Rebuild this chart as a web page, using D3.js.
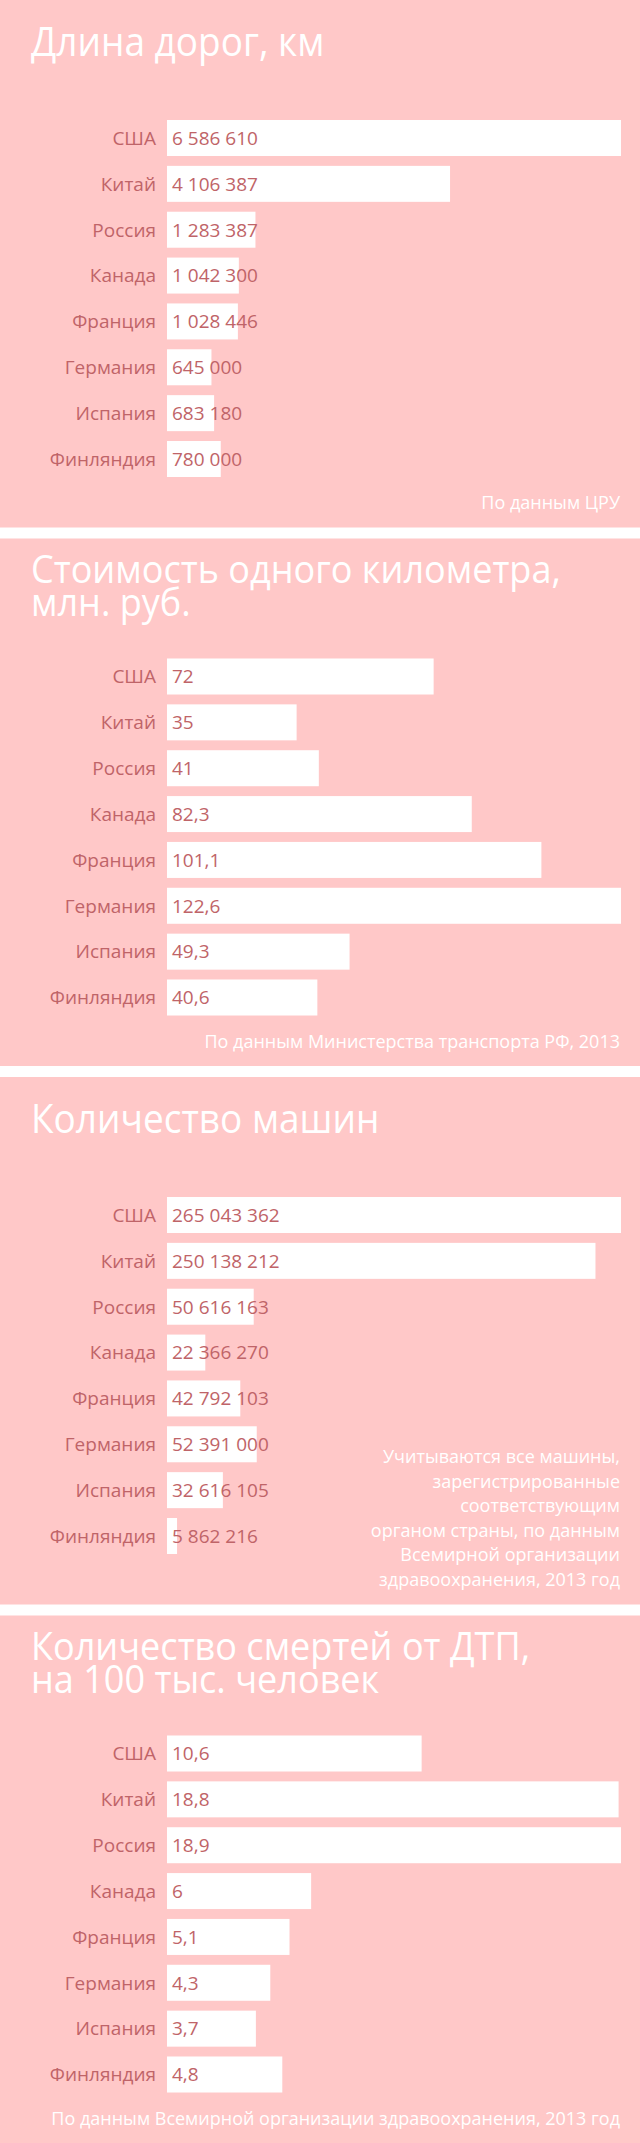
<!DOCTYPE html>
<html>
<head>
<meta charset="utf-8">
<script src="https://cdn.jsdelivr.net/npm/d3@7/dist/d3.min.js"></script>
<style>
  html, body { margin: 0; padding: 0; background: #ffffff; }
  svg { display: block; }
  text { font-family: "Open Sans", "Noto Sans", sans-serif; }
</style>
</head>
<body>
<svg id="chart" width="640" height="2143"></svg>
<script>
// ---- data ----
const categories = ["США", "Китай", "Россия", "Канада", "Франция", "Германия", "Испания", "Финляндия"];

const roadLength = [6586610, 4106387, 1283387, 1042300, 1028446, 645000, 683180, 780000];
const costPerKm  = [72, 35, 41, 82.3, 101.1, 122.6, 49.3, 40.6];
const carCount   = [265043362, 250138212, 50616163, 22366270, 42792103, 52391000, 32616105, 5862216];
const deathRate  = [10.6, 18.8, 18.9, 6, 5.1, 4.3, 3.7, 4.8];

const titles = [
  ["Длина дорог, км"],
  ["Стоимость одного километра,", "млн. руб."],
  ["Количество машин"],
  ["Количество смертей от ДТП,", "на 100 тыс. человек"]
];
const notes = [
  ["По данным ЦРУ"],
  ["По данным Министерства транспорта РФ, 2013"],
  ["Учитываются все машины,", "зарегистрированные", "соответствующим",
   "органом страны, по данным", "Всемирной организации", "здравоохранения, 2013 год"],
  ["По данным Всемирной организации здравоохранения, 2013 год"]
];
const seriesList = [roadLength, costPerKm, carCount, deathRate];

// ---- style / layout ----
const W = 640, H = 2143;
const pink = "#ffc8c8";
const rose = "#bf6468";
const gapH = 11;
const panelStep = (H + gapH) / 4;
const panelH = panelStep - gapH;
const barX0 = 167, barX1 = 621;
const barTop = 120, barBottom = 477;
const labelGap = 11;

const ru = d3.formatLocale({ decimal: ",", thousands: " ", grouping: [3], currency: ["", ""] });
const fmt = ru.format(",");

const svg = d3.select("#chart");
svg.append("rect").attr("width", W).attr("height", H).attr("fill", "#ffffff");

seriesList.forEach((values, i) => {
  const g = svg.append("g").attr("transform", `translate(0,${i * panelStep})`);
  g.append("rect").attr("width", W).attr("height", panelH).attr("fill", pink);

  // title
  const tl = titles[i];
  const baselines = tl.length === 1 ? [55.5] : [44.5, 77.5];
  const tsize = tl.length === 1 ? 40 : 39;
  tl.forEach((line, k) => {
    g.append("text")
      .attr("transform", `translate(31,${baselines[k]}) scale(0.925,1)`)
      .attr("fill", "#ffffff")
      .attr("font-size", tsize)
      .text(line);
  });

  const y = d3.scaleBand().domain(categories).range([barTop, barBottom]).paddingInner(0.215).paddingOuter(0);
  const x = d3.scaleLinear().domain([0, d3.max(values)]).range([barX0, barX1]);
  const data = categories.map((c, j) => ({ c, v: values[j] }));

  g.selectAll("rect.bar").data(data).join("rect")
    .attr("class", "bar")
    .attr("x", x(0))
    .attr("y", d => y(d.c))
    .attr("width", d => x(d.v) - x(0))
    .attr("height", y.bandwidth())
    .attr("fill", "#ffffff");

  // category axis (labels only)
  const axis = d3.axisLeft(y).tickSize(0).tickPadding(0);
  const ag = g.append("g").attr("transform", `translate(${barX0 - labelGap},0)`).call(axis);
  ag.select(".domain").remove();
  ag.selectAll("text")
    .attr("fill", rose)
    .attr("font-size", 19)
    .attr("font-family", '"Open Sans", "Noto Sans", sans-serif')
    .attr("dy", "0.36em");

  g.selectAll("text.val").data(data).join("text")
    .attr("class", "val")
    .attr("x", x(0) + 5)
    .attr("y", d => y(d.c) + y.bandwidth() / 2)
    .attr("dy", "0.36em")
    .attr("fill", rose)
    .attr("font-size", 19)
    .text(d => fmt(d.v));

  // source note
  const nl = notes[i];
  const lh = 24.6;
  const lastBase = 509;
  nl.forEach((line, k) => {
    g.append("text")
      .attr("x", 620)
      .attr("y", lastBase - (nl.length - 1 - k) * lh)
      .attr("text-anchor", "end")
      .attr("fill", "#ffffff")
      .attr("font-size", 18)
      .text(line);
  });
});
</script>
</body>
</html>
